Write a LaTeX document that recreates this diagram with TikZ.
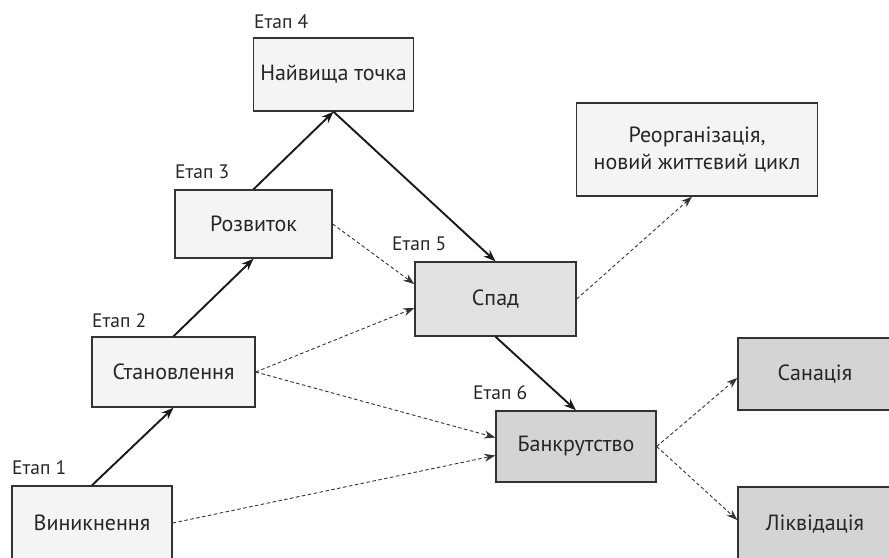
\documentclass[tikz,border=0pt]{standalone}
\usepackage{fontspec}
\setmainfont{PT Sans}
\usetikzlibrary{arrows.meta,calc}
\definecolor{boxlight}{HTML}{F4F4F4}
\definecolor{boxmid}{HTML}{E2E2E2}
\definecolor{boxdark}{HTML}{D4D4D4}
\definecolor{edgecol}{HTML}{333333}
\begin{document}
\begin{tikzpicture}[x=1pt,y=-1pt,
  stagebox/.style={draw=edgecol,line width=1.4pt,rectangle,inner sep=0pt,
    align=center,text=black!85,font=\fontsize{22}{27}\selectfont},
  stagelabel/.style={anchor=base west,inner sep=0pt,text=black!85,
    font=\fontsize{19.5}{23}\selectfont},
  mainflow/.style={draw=black!90,line width=1.9pt,
    -{Stealth[length=12pt,width=9pt]}},
  sideflow/.style={draw=black!80,line width=0.9pt,dash pattern=on 3.5pt off 2.5pt,
    -{Stealth[length=11pt,width=8pt]}}]
\useasboundingbox (0,0) rectangle (889,557);

% stage boxes
\node[stagebox,fill=boxlight,minimum width=160,minimum height=74] (v) at (92,523) {Виникнення};
\node[stagebox,fill=boxlight,minimum width=163,minimum height=70] (s) at (173.5,372) {Становлення};
\node[stagebox,fill=boxlight,minimum width=157,minimum height=68] (r) at (253.5,224) {Розвиток};
\node[stagebox,fill=boxlight,minimum width=160,minimum height=73] (n) at (333.5,74.5) {Найвища точка};
\node[stagebox,fill=boxmid,minimum width=161,minimum height=74] (sp) at (495.5,299) {Спад};
\node[stagebox,fill=boxdark,minimum width=160,minimum height=71] (b) at (576,446.5) {Банкрутство};
\node[stagebox,fill=boxlight,minimum width=241,minimum height=93] (re) at (697,149.5) {Реорганізація,\\новий життєвий цикл};
\node[stagebox,fill=boxdark,minimum width=154,minimum height=72] (san) at (815,374) {Санація};
\node[stagebox,fill=boxdark,minimum width=154,minimum height=74] (liq) at (815,524) {Ліквідація};

% stage captions
\node[stagelabel] (l1) at (12,474) {Етап 1};
\node[stagelabel] (l2) at (92,327) {Етап 2};
\node[stagelabel] (l3) at (175,178) {Етап 3};
\node[stagelabel] (l4) at (254,28) {Етап 4};
\node[stagelabel] (l5) at (392,250) {Етап 5};
\node[stagelabel] (l6) at (473,399) {Етап 6};

% main life-cycle path
\draw[mainflow] (v.north) -- (s.south);
\draw[mainflow] (s.north) -- (r.south);
\draw[mainflow] (r.north) -- (n.south);
\draw[mainflow] (n.south) -- (sp.north);
\draw[mainflow] (sp.south) -- (b.north);

% possible transitions
\draw[sideflow] (r.east) -- ([yshift=15]sp.west);
\draw[sideflow] (s.east) -- ([yshift=-9]sp.west);
\draw[sideflow] (s.east) -- ([yshift=9]b.west);
\draw[sideflow] (v.east) -- ([yshift=-9]b.west);
\draw[sideflow] (sp.east) -- ([xshift=-5]re.south);
\draw[sideflow] (b.east) -- ([yshift=-4]san.west);
\draw[sideflow] (b.east) -- ([yshift=4]liq.west);
\end{tikzpicture}
\end{document}
